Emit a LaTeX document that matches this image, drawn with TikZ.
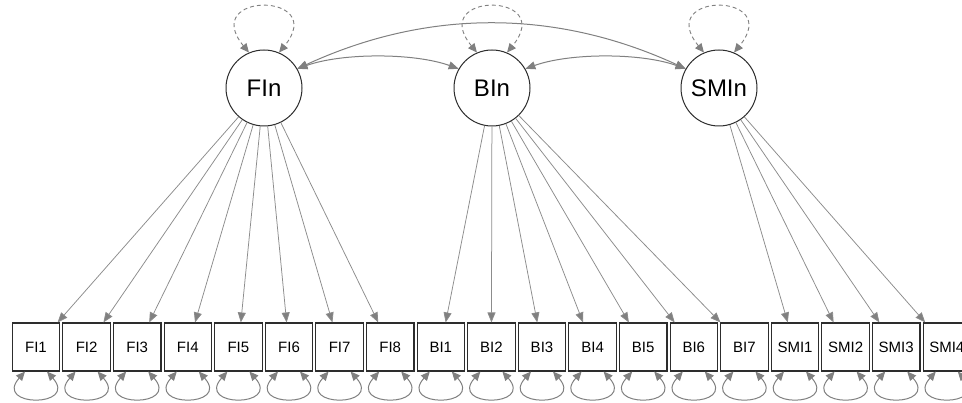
\documentclass[tikz,border=0pt]{standalone}
\usepackage{fontspec}
\setmainfont{Liberation Sans}
\usetikzlibrary{arrows.meta,calc}
\definecolor{edgegray}{RGB}{128,128,128}
\definecolor{linegray}{RGB}{140,140,140}
\definecolor{bordergray}{RGB}{45,45,45}
\begin{document}
\begin{tikzpicture}[x=1pt,y=-1pt,
  manifest/.style={draw=bordergray,line width=1.1pt,minimum width=47.5pt,minimum height=48pt,inner sep=0pt,font=\fontsize{15}{17}\selectfont},
  latent/.style={circle,draw=bordergray,line width=1pt,minimum size=76pt,inner sep=0pt,font=\fontsize{24}{27}\selectfont},
  loading/.style={draw=linegray,line width=0.75pt,-{Triangle[length=10pt,width=8pt,fill=edgegray]}},
  resid/.style={draw=edgegray,line width=1pt,{Triangle[length=9pt,width=8pt]}-{Triangle[length=9pt,width=8pt]}},
  lvar/.style={draw=edgegray,line width=0.9pt,dash pattern=on 4pt off 3pt,{Triangle[length=9pt,width=8pt]}-{Triangle[length=9pt,width=8pt]}},
  cov/.style={draw=edgegray,line width=1pt,{Triangle[length=10pt,width=8pt]}-{Triangle[length=10pt,width=8pt]}}]
\useasboundingbox[fill=white] (0,0) rectangle (962,403);
% latent variables
\node[latent] (FIn) at (264,88) {FIn};
\node[latent] (BIn) at (492,88) {BIn};
\node[latent] (SMIn) at (719,88) {SMIn};
% manifest variables
\foreach \lab [count=\i from 0] in {FI1,FI2,FI3,FI4,FI5,FI6,FI7,FI8,BI1,BI2,BI3,BI4,BI5,BI6,BI7,SMI1,SMI2,SMI3,SMI4}
  \node[manifest] (\lab) at ({36+50.6*\i},347) {\lab};
% loadings
\foreach \m in {FI1,FI2,FI3,FI4,FI5,FI6,FI7,FI8} \draw[loading] (FIn) -- (\m);
\foreach \m in {BI1,BI2,BI3,BI4,BI5,BI6,BI7} \draw[loading] (BIn) -- (\m);
\foreach \m in {SMI1,SMI2,SMI3,SMI4} \draw[loading] (SMIn) -- (\m);
% residual variances
\foreach \m in {FI1,FI2,FI3,FI4,FI5,FI6,FI7,FI8,BI1,BI2,BI3,BI4,BI5,BI6,BI7,SMI1,SMI2,SMI3,SMI4}
  \draw[resid] ([xshift=-11pt]\m.south) .. controls +(-32,36) and +(32,36) .. ([xshift=11pt]\m.south);
% latent variances
\foreach \l in {FIn,BIn,SMIn}
  \draw[lvar] (\l.113) .. controls +(-50,-61) and +(50,-61) .. (\l.67);
% covariances
\draw[cov] (FIn.30) .. controls +(45,-16) and +(-45,-16) .. (BIn.150);
\draw[cov] (FIn.30) .. controls +(130,-60) and +(-130,-60) .. (SMIn.150);
\draw[cov] (BIn.30) .. controls +(45,-16) and +(-45,-16) .. (SMIn.150);
\end{tikzpicture}
\end{document}
